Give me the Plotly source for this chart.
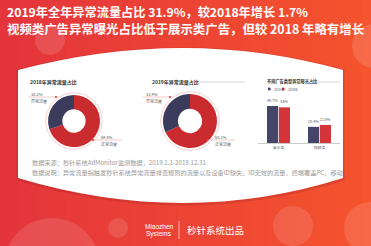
import plotly.graph_objects as go

W, H = 371, 246

# ---------------- data ----------------
title_line1 = "2019年全年异常流量占比 31.9%，较2018年增长 1.7%"
title_line2 = "视频类广告异常曝光占比低于展示类广告，但较 2018 年略有增长"

pie_labels = ["异常流量", "正常流量"]
pie_2018 = [30.2, 69.8]
pie_2019 = [31.9, 68.1]
pie_titles = ["2018年异常流量占比", "2019年异常流量占比"]

bar_title = "不同广告类型异常曝光占比"
bar_categories = ["展示类", "视频类"]
bar_series_names = ["2018年", "2019年"]
bar_2018 = [46.7, 20.4]
bar_2019 = [45.0, 22.8]

note_source = "数据来源：秒针系统AdMonitor监测数据，2019.1.1-2019.12.31"
note_desc = "数据说明：异常流量指触发秒针系统异常流量排查规则的流量以及设备ID缺失、ID无效的流量，终端覆盖PC、移动"
footer_text = "秒针系统出品"

FONT = "Noto Sans CJK SC"
DARK = "#3b3b5b"
RED = "#c92b2f"
BAR_DARK = "#45456a"
BAR_RED = "#d4353a"


def px(x):
    return x / W


def py(y):
    return 1 - y / H


def P(x, y):
    return f"{px(x):.5f},{py(y):.5f}"


fig = go.Figure()
shapes = []
annotations = []

# ---------------- background gradient ----------------
c0 = (0xE4, 0x35, 0x3C)
c1 = (0xF5, 0x54, 0x2E)
n = 40
for i in range(n):
    t = i / (n - 1)
    col = tuple(int(c0[k] + (c1[k] - c0[k]) * t) for k in range(3))
    shapes.append(dict(type="rect", xref="paper", yref="paper",
                       x0=i / n, x1=(i + 1) / n + 0.002, y0=0, y1=1,
                       fillcolor="rgb(%d,%d,%d)" % col, line=dict(width=0),
                       layer="below"))

# decorative circles
for cx, cy, r, op in [(50, 40, 15, 0.13), (374, 46, 22, 0.13), (52, 266, 48, 0.12),
                      (118, 228, 10, 0.12), (293, 226, 20, 0.12), (370, 228, 26, 0.12)]:
    shapes.append(dict(type="circle", xref="paper", yref="paper",
                       x0=px(cx - r), x1=px(cx + r), y0=py(cy + r), y1=py(cy - r),
                       fillcolor=f"rgba(255,255,255,{op})", line=dict(width=0),
                       layer="below"))

# white card (with faint shadow)
def card_path(dx=0.0, dy=0.0, grow=0.0):
    l, r = 18 - grow + dx, 343 + grow + dx
    t, b = 70 - grow + dy, 178 + grow + dy
    return ("M " + P(l, t) + " Q " + P(185 + dx, 26 - grow + dy) + " " + P(r, t) +
            " L " + P(r, b) + " Q " + P(185 + dx, 228 + grow + dy) + " " + P(l, b) + " Z")

shapes.append(dict(type="path", xref="paper", yref="paper", path=card_path(0, 1, 1.5),
                   fillcolor="rgba(120,20,20,0.18)", line=dict(width=0), layer="below"))
shapes.append(dict(type="path", xref="paper", yref="paper", path=card_path(),
                   fillcolor="#ffffff", line=dict(width=0), layer="below"))

# ---------------- titles ----------------
annotations.append(dict(text="<b>" + title_line1 + "</b>", x=px(5), y=py(12), xref="paper", yref="paper",
                        xanchor="left", yanchor="middle", showarrow=False,
                        font=dict(family=FONT, size=12.2, color="white")))
annotations.append(dict(text="<b>" + title_line2 + "</b>", x=px(5), y=py(29), xref="paper", yref="paper",
                        xanchor="left", yanchor="middle", showarrow=False,
                        font=dict(family=FONT, size=12.4, color="white")))

# ---------------- donuts ----------------
donuts = [
    dict(vals=pie_2018, cx=74, cy=121, r=26, title=pie_titles[0], tx=28,
         lab_l=(28, 56), lab_r=(93, 122), line_after=None),
    dict(vals=pie_2019, cx=190, cy=121, r=27, title=pie_titles[1], tx=150,
         lab_l=(143, 170), lab_r=(207, 235), line_after=(195, 245)),
]
for d in donuts:
    cx, cy, r = d["cx"], d["cy"], d["r"]
    # normal traffic first, drawn clockwise from 12 o'clock -> abnormal ends up top-left
    fig.add_trace(go.Pie(
        labels=pie_labels[::-1], values=d["vals"][::-1], sort=False, direction="clockwise",
        rotation=0, hole=0.45, textinfo="none", hoverinfo="label+percent",
        marker=dict(colors=[RED, DARK], line=dict(width=0)),
        domain=dict(x=[px(cx - r), px(cx + r)], y=[py(cy + r), py(cy - r)]),
        showlegend=False))
    # thin ring
    rr = r + 2.2
    shapes.append(dict(type="circle", xref="paper", yref="paper",
                       x0=px(cx - rr), x1=px(cx + rr), y0=py(cy + rr), y1=py(cy - rr),
                       line=dict(color="#f4b8b8", width=0.7), fillcolor="rgba(0,0,0,0)"))
    # chart title
    annotations.append(dict(text="<b>" + d["title"] + "</b>", x=px(d["tx"]), y=py(82),
                            xref="paper", yref="paper", xanchor="left", yanchor="middle",
                            showarrow=False, font=dict(family=FONT, size=5, color="#333333")))
    if d["line_after"]:
        a, b = d["line_after"]
        shapes.append(dict(type="line", xref="paper", yref="paper", x0=px(a), x1=px(b),
                           y0=py(82), y1=py(82), line=dict(color="#bbbbbb", width=0.6)))
    # leader lines + labels
    l0, l1 = d["lab_l"]
    r0, r1 = d["lab_r"]
    for (xa, xb, yy, dotx, txtx, val, lab) in [
        (l0, l1, 97, l1, l0 + 1, d["vals"][0], pie_labels[0]),
        (r0, r1, 140, r0, r0 + 6, d["vals"][1], pie_labels[1]),
    ]:
        shapes.append(dict(type="line", xref="paper", yref="paper", x0=px(xa), x1=px(xb),
                           y0=py(yy), y1=py(yy), line=dict(color="#f2a6a6", width=0.6)))
        shapes.append(dict(type="circle", xref="paper", yref="paper",
                           x0=px(dotx - 1.1), x1=px(dotx + 1.1), y0=py(yy + 1.1), y1=py(yy - 1.1),
                           fillcolor="#e0383c", line=dict(width=0)))
        annotations.append(dict(text=f"{val}%", x=px(txtx), y=py(yy - 3.2), xref="paper", yref="paper",
                                xanchor="left", yanchor="middle", showarrow=False,
                                font=dict(family=FONT, size=4, color="#555555")))
        annotations.append(dict(text=lab, x=px(txtx), y=py(yy + 4.2), xref="paper", yref="paper",
                                xanchor="left", yanchor="middle", showarrow=False,
                                font=dict(family=FONT, size=4, color="#555555")))

# ---------------- bar chart ----------------
for name, vals, col in [(bar_series_names[0], bar_2018, BAR_DARK),
                        (bar_series_names[1], bar_2019, BAR_RED)]:
    fig.add_trace(go.Bar(
        x=bar_categories, y=vals, name=name, marker=dict(color=col, line=dict(width=0)),
        texttemplate="%{y}%", textposition="outside", cliponaxis=False,
        textfont=dict(family=FONT, size=3.8, color="#555555"),
        xaxis="x", yaxis="y", showlegend=False))

annotations.append(dict(text="<b>" + bar_title + "</b>", x=px(265), y=py(82), xref="paper", yref="paper",
                        xanchor="left", yanchor="middle", showarrow=False,
                        font=dict(family=FONT, size=4.2, color="#333333")))
shapes.append(dict(type="line", xref="paper", yref="paper", x0=px(315), x1=px(340),
                   y0=py(82), y1=py(82), line=dict(color="#bbbbbb", width=0.6)))
# manual legend
for sx, name, col in [(268, bar_series_names[0], BAR_DARK), (282, bar_series_names[1], BAR_RED)]:
    shapes.append(dict(type="rect", xref="paper", yref="paper", x0=px(sx), x1=px(sx + 2.6),
                       y0=py(90.3), y1=py(87.7), fillcolor=col, line=dict(width=0)))
    annotations.append(dict(text=name, x=px(sx + 3.6), y=py(89), xref="paper", yref="paper",
                            xanchor="left", yanchor="middle", showarrow=False,
                            font=dict(family=FONT, size=3, color="#555555")))

# ---------------- notes ----------------
annotations.append(dict(text=note_source, x=px(30), y=py(162), xref="paper", yref="paper",
                        xanchor="left", yanchor="middle", showarrow=False,
                        font=dict(family=FONT, size=6.2, color="#9a9a9a")))
annotations.append(dict(text=note_desc, x=px(30), y=py(172), xref="paper", yref="paper",
                        xanchor="left", yanchor="middle", showarrow=False,
                        font=dict(family=FONT, size=6.2, color="#9a9a9a")))

# ---------------- footer ----------------
annotations.append(dict(text="Miaozhen", x=px(159), y=py(226), xref="paper", yref="paper",
                        xanchor="center", yanchor="middle", showarrow=False,
                        font=dict(family="Liberation Sans Narrow, Liberation Sans", size=6.5, color="white")))
annotations.append(dict(text="Systems", x=px(159), y=py(234), xref="paper", yref="paper",
                        xanchor="center", yanchor="middle", showarrow=False,
                        font=dict(family="Liberation Sans Narrow, Liberation Sans", size=6.5, color="white")))
shapes.append(dict(type="line", xref="paper", yref="paper", x0=px(179), x1=px(179),
                   y0=py(221), y1=py(239), line=dict(color="rgba(255,255,255,0.8)", width=0.7)))
annotations.append(dict(text=footer_text, x=px(185), y=py(230), xref="paper", yref="paper",
                        xanchor="left", yanchor="middle", showarrow=False,
                        font=dict(family=FONT, size=9.5, color="white")))

fig.update_layout(
    width=W, height=H, margin=dict(l=0, r=0, t=0, b=0),
    paper_bgcolor="#e8403a", plot_bgcolor="rgba(0,0,0,0)",
    shapes=shapes, annotations=annotations,
    barmode="group", bargap=0.42, bargroupgap=0.06,
    xaxis=dict(domain=[px(258), px(340)], showline=True, linecolor="#cccccc", linewidth=0.6,
               ticks="", tickfont=dict(family=FONT, size=3.8, color="#666666"),
               showgrid=False, zeroline=False, fixedrange=True, ticklabelstandoff=1),
    yaxis=dict(domain=[py(143), py(100)], range=[0, 54.3], visible=False, showgrid=False,
               zeroline=False, fixedrange=True),
    showlegend=False,
    font=dict(family=FONT),
)

fig.write_html("out.html")
